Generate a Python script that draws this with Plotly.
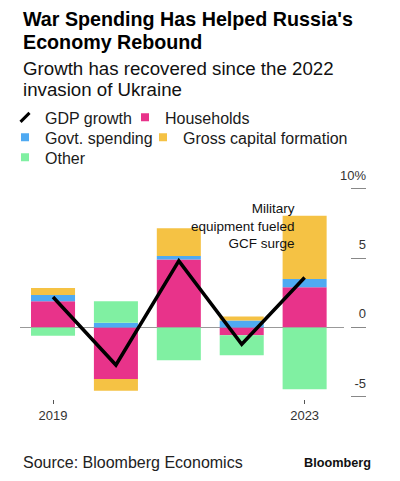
import plotly.graph_objects as go

# ---- data ----
years = [2019, 2020, 2021, 2022, 2023]
households = [1.9, -3.7, 4.9, -0.55, 2.9]
govt_spending = [0.45, 0.35, 0.25, 0.5, 0.6]
gross_capital = [0.5, -0.85, 2.0, 0.3, 4.55]
other = [-0.6, 1.55, -2.35, -1.45, -4.45]
gdp_growth = [2.2, -2.7, 4.8, -1.2, 3.6]

x_tick_vals = [2019, 2023]
x_tick_text = ["2019", "2023"]
y_tick_vals = [-5, 0, 5, 10]
y_tick_text = ["-5", "0", "5", "10%"]

series_names = ["Households", "Govt. spending", "Gross capital formation", "Other"]
series_values = [households, govt_spending, gross_capital, other]
series_colors = ["#E8338A", "#4FAAF2", "#F5C244", "#80F0A2"]

FONT = "Liberation Sans, Arial, sans-serif"
OFF = 8  # page body margin offset
W, H = 400 - OFF, 481 - OFF
Y_MIN, Y_MAX = -5.15, 12.0
# plot area in figure pixels
L, R, T, B = 12, 358, 152.6, 390.8


def px(xpage):
    return (xpage - OFF - L) / (R - L)


def py(ypage):
    return (B - (ypage - OFF)) / (B - T)


fig = go.Figure()

for name, vals, col in zip(series_names, series_values, series_colors):
    fig.add_trace(go.Bar(x=years, y=vals, name=name, marker=dict(color=col, line=dict(width=0)),
                         width=0.7, showlegend=False, hoverinfo="skip"))

fig.add_trace(go.Scatter(x=years, y=gdp_growth, mode="lines", name="GDP growth",
                         line=dict(color="black", width=3.5), showlegend=False))

# legend entries (three single-row legends)
legend_rows = {"GDP growth": "legend", "Households": "legend",
               "Govt. spending": "legend2", "Gross capital formation": "legend2",
               "Other": "legend3"}
legend_widths = {"GDP growth": 75, "Govt. spending": 93, "Gross capital formation": 160}

fig.add_trace(go.Scatter(x=[None], y=[None], mode="markers", name="GDP growth",
                         legend="legend", legendwidth=legend_widths["GDP growth"],
                         marker=dict(symbol="line-ne", size=9, color="black",
                                     line=dict(width=3, color="black"))))
for name, col in zip(series_names, series_colors):
    fig.add_trace(go.Scatter(x=[None], y=[None], mode="markers", name=name,
                             legend=legend_rows[name], legendwidth=legend_widths.get(name),
                             marker=dict(symbol="square", size=8, color=col, line=dict(width=0))))

annotations = [
    dict(text="<b>War Spending Has Helped Russia's</b>", x=px(20.5), y=py(18.5), font=dict(size=19.7, color="#000")),
    dict(text="<b>Economy Rebound</b>", x=px(20.5), y=py(42), font=dict(size=19.7, color="#000")),
    dict(text="Growth has recovered since the 2022", x=px(20.5), y=py(67.6), font=dict(size=18.7, color="#111")),
    dict(text="invasion of Ukraine", x=px(20.5), y=py(88.6), font=dict(size=18.7, color="#111")),
    dict(text="Source: Bloomberg Economics", x=px(20.5), y=py(462.5), font=dict(size=16, color="#222")),
]
for a in annotations:
    a.update(xref="paper", yref="paper", xanchor="left", yanchor="middle", showarrow=False,
             font=dict(family=FONT, **a["font"]))

annotations.append(dict(text="<b>Bloomberg</b>", x=px(373), y=py(462.5), xref="paper", yref="paper",
                        xanchor="right", yanchor="middle", showarrow=False,
                        font=dict(family=FONT, size=12.7, color="#111")))
annotations.append(dict(text="Military<br>equipment fueled<br>GCF surge", x=2022.88, y=7.3,
                        xref="x", yref="y", xanchor="right", yanchor="middle", align="right",
                        showarrow=False, font=dict(family=FONT, size=13.5, color="#111")))

legend_common = dict(orientation="h", x=px(5), xanchor="left", yanchor="middle",
                     font=dict(family=FONT, size=16, color="#1a1a1a"), traceorder="normal",
                     bgcolor="rgba(0,0,0,0)", itemclick=False, itemdoubleclick=False)

fig.update_layout(
    width=W, height=H,
    margin=dict(l=L, r=W - R, t=T, b=H - B, pad=0, autoexpand=False),
    paper_bgcolor="white", plot_bgcolor="white",
    barmode="relative",
    font=dict(family=FONT, color="#222"),
    showlegend=True,
    legend=dict(y=py(117), **legend_common),
    legend2=dict(y=py(137), **legend_common),
    legend3=dict(y=py(157), **legend_common),
    annotations=annotations,
    xaxis=dict(domain=[0, (343.5 - OFF - L) / (R - L)], range=[2018.475, 2023.618],
               tickvals=x_tick_vals, ticktext=x_tick_text, ticks="outside", ticklen=4,
               tickcolor="#555", tickwidth=1, showgrid=False, zeroline=False, showline=False,
               tickfont=dict(family=FONT, size=13, color="#333"), fixedrange=True),
    yaxis=dict(range=[Y_MIN, Y_MAX], anchor="free", position=1, side="right",
               tickvals=y_tick_vals, ticktext=y_tick_text, ticks="inside", ticklen=15,
               tickcolor="#888", tickwidth=1.2, ticklabelposition="inside top",
               ticklabelstandoff=-3, ticklabelshift=-4,
               showgrid=False, showline=False, zeroline=True, zerolinecolor="#999",
               zerolinewidth=1.2, tickfont=dict(family=FONT, size=13, color="#333"),
               fixedrange=True),
)

fig.write_html("out.html")
